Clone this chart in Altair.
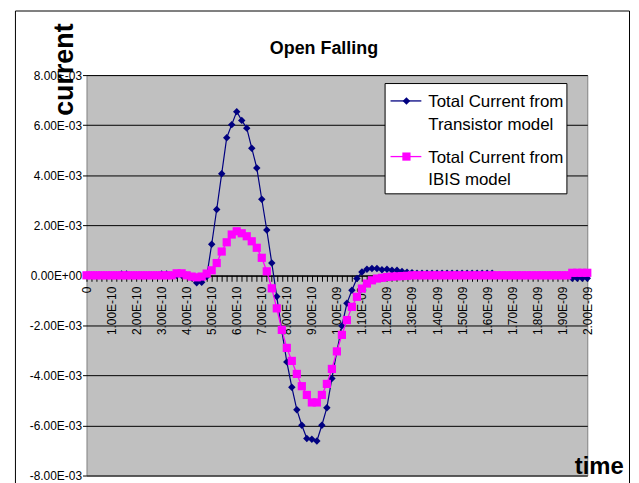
import altair as alt
import pandas as pd

# ---- data ----
time_ps = list(range(0, 2001, 20))          # 0 .. 2.00E-09 s in 20 ps steps
series_names = ["Total Current from\nTransistor model", "Total Current from\nIBIS model"]

transistor_mA = [
    0, 0, 0, 0, 0, 0, 0, 0.05, 0.05, 0,
    0, 0, 0, 0, 0, 0.05, 0.05, 0, 0, 0,
    0, -0.10, -0.30, -0.28, -0.05, 1.24, 2.63, 4.06, 5.50, 6.02,
    6.54, 6.19, 5.88, 5.08, 4.29, 3.04, 1.81, 0.49, -0.85, -2.21,
    -3.46, -4.47, -5.37, -5.99, -6.52, -6.55, -6.62, -5.99, -5.29, -4.12,
    -3.04, -2.02, -1.12, -0.60, -0.13, 0.13, 0.24, 0.27, 0.27, 0.22,
    0.24, 0.20, 0.20, 0.15, 0.12, 0.10, 0.08, 0.08, 0.08, 0.08,
    0.08, 0.08, 0.08, 0.08, 0.08, 0.08, 0.08, 0.08, 0.08, 0.08,
    0.08, 0.08, 0, 0, 0, 0, 0, 0, 0, 0,
    0, 0, 0, 0, 0, 0, 0, -0.12, -0.12, -0.12,
    -0.12,
]
ibis_mA = [
    0, 0, 0, 0, 0, 0, 0, 0, 0, 0,
    0, 0, 0, 0, 0, 0, 0, 0, 0.08, 0.08,
    0, -0.05, -0.08, -0.05, 0.07, 0.20, 0.49, 0.95, 1.32, 1.63,
    1.76, 1.68, 1.56, 1.36, 1.10, 0.70, 0.16, -0.52, -1.32, -2.18,
    -2.90, -3.42, -3.94, -4.43, -4.78, -5.08, -5.08, -4.78, -4.34, -3.74,
    -3.04, -2.38, -1.79, -1.26, -0.86, -0.53, -0.33, -0.20, -0.13, -0.10,
    -0.07, -0.05, -0.04, -0.03, -0.02, 0, 0, 0, 0, 0,
    0, 0, 0, 0, 0, 0, 0, 0, 0, 0,
    0, 0, 0, 0, 0, 0, 0, 0, 0, 0,
    0, 0, 0, 0, 0, 0, 0, 0.10, 0.10, 0.10,
    0.10,
]
x_tick_labels = ["0", "1.00E-10", "2.00E-10", "3.00E-10", "4.00E-10", "5.00E-10",
                 "6.00E-10", "7.00E-10", "8.00E-10", "9.00E-10", "1.00E-09",
                 "1.10E-09", "1.20E-09", "1.30E-09", "1.40E-09", "1.50E-09",
                 "1.60E-09", "1.70E-09", "1.80E-09", "1.90E-09", "2.00E-09"]
y_tick_values = [-0.008, -0.006, -0.004, -0.002, 0.0, 0.002, 0.004, 0.006, 0.008]
y_tick_labels = ["-8.00E-03", "-6.00E-03", "-4.00E-03", "-2.00E-03", "0.00E+00",
                 "2.00E-03", "4.00E-03", "6.00E-03", "8.00E-03"]

title_text = "Open Falling"
x_title = "time"
y_title = "current"

NAVY = "#000080"
PINK = "#FF00FF"
FONT = "Liberation Sans"

times = [p * 1e-12 for p in time_ps]
df = pd.DataFrame({
    "t": times + times,
    "current": [v * 1e-3 for v in transistor_mA] + [v * 1e-3 for v in ibis_mA],
    "series": [series_names[0]] * len(times) + [series_names[1]] * len(times),
})

W, H = 504, 403

x_lab_js = "[" + ",".join("'" + s + "'" for s in x_tick_labels) + "]"
y_lab_js = "[" + ",".join("'" + s + "'" for s in y_tick_labels) + "]"

x_enc = alt.X(
    "t:Q",
    scale=alt.Scale(domain=[0, 2e-9], nice=False, zero=False),
    axis=alt.Axis(
        values=times,
        labelExpr=f"(round(datum.value*5e10) % 5 == 0) ? {x_lab_js}[round(datum.value*1e10)] : ''",
        labelAngle=270, labelAlign="right", labelBaseline="middle",
        labelOverlap=False, labelFont=FONT, labelFontSize=12, labelColor="black",
        labelPadding=5, tickSize=6, tickColor="black", domainColor="black",
        grid=False, offset=-H / 2,
        title=x_title, titleFont=FONT, titleFontSize=24, titleFontWeight="bold",
        titleColor="black", titleX=515.5, titleY=199, titleAlign="center",
        titleBaseline="alphabetic", titleAngle=0,
    ),
)
y_enc = alt.Y(
    "current:Q",
    scale=alt.Scale(domain=[-0.008, 0.008], nice=False, zero=False),
    axis=alt.Axis(
        values=y_tick_values,
        labelExpr=f"{y_lab_js}[round(datum.value*500)+4]",
        labelFont=FONT, labelFontSize=12, labelColor="black", labelPadding=1,
        tickSize=4, tickColor="black", domain=False,
        grid=True, gridColor="black", gridOpacity=1, gridWidth=1,
        title=y_title, titleFont=FONT, titleFontSize=27, titleFontWeight="bold",
        titleColor="black", titleX=-14, titleY=-6, titleAngle=270,
        titleAlign="center", titleBaseline="alphabetic",
    ),
)

base = alt.Chart(df)
navy = base.transform_filter(alt.datum.series == series_names[0])
pink = base.transform_filter(alt.datum.series == series_names[1])

navy_line = navy.mark_line(color=NAVY, strokeWidth=1.2).encode(x=x_enc, y=y_enc)
navy_pts = navy.mark_point(shape="diamond", filled=True, size=56, color=NAVY, opacity=1).encode(x=x_enc, y=y_enc)
pink_line = pink.mark_line(color=PINK, strokeWidth=1.3).encode(x=x_enc, y=y_enc)
pink_pts = pink.mark_point(shape="square", filled=True, size=68, color=PINK, opacity=1).encode(x=x_enc, y=y_enc)

one = pd.DataFrame({"k": [0]})
frame = alt.Chart(one).mark_rect(fill=None, stroke="black", strokeWidth=1).encode(
    x=alt.value(-71.5), x2=alt.value(546.5), y=alt.value(-64.5), y2=alt.value(430))
title = alt.Chart(pd.DataFrame({"txt": [title_text]})).mark_text(
    font=FONT, fontSize=18, fontWeight="bold", align="center", baseline="alphabetic", color="black"
).encode(text="txt:N", x=alt.value(239), y=alt.value(-21))

# legend box
leg_box = alt.Chart(one).mark_rect(fill="white", stroke="black", strokeWidth=1).encode(
    x=alt.value(300.5), x2=alt.value(483.5), y=alt.value(8.5), y2=alt.value(119.5))
leg_layers = [leg_box]
for i, (name, col, shp, sz) in enumerate([(series_names[0], NAVY, "diamond", 56),
                                          (series_names[1], PINK, "square", 68)]):
    yy = 26 + 56 * i
    d = pd.DataFrame({"name": [name]})
    leg_layers.append(alt.Chart(d).mark_rule(color=col, strokeWidth=1.3).encode(
        x=alt.value(306), x2=alt.value(337), y=alt.value(yy)))
    leg_layers.append(alt.Chart(d).mark_point(shape=shp, filled=True, size=sz, color=col, opacity=1).encode(
        x=alt.value(322), y=alt.value(yy)))
    leg_layers.append(alt.Chart(d).mark_text(
        font=FONT, fontSize=17, align="left", baseline="alphabetic", color="black",
        lineBreak="\n", lineHeight=23).encode(text="name:N", x=alt.value(344), y=alt.value(yy + 6)))

chart = alt.layer(
    navy_line, navy_pts, pink_line, pink_pts, frame, title, *leg_layers
).properties(
    width=W, height=H,
    autosize=alt.AutoSizeParams(type="none"),
    padding={"left": 79, "top": 66, "right": 44, "bottom": 6},
    background="white",
).configure_view(
    fill="#C0C0C0", stroke="#808080", strokeWidth=1,
)

chart.save("out.html", embed_options={"renderer": "svg", "actions": False})
